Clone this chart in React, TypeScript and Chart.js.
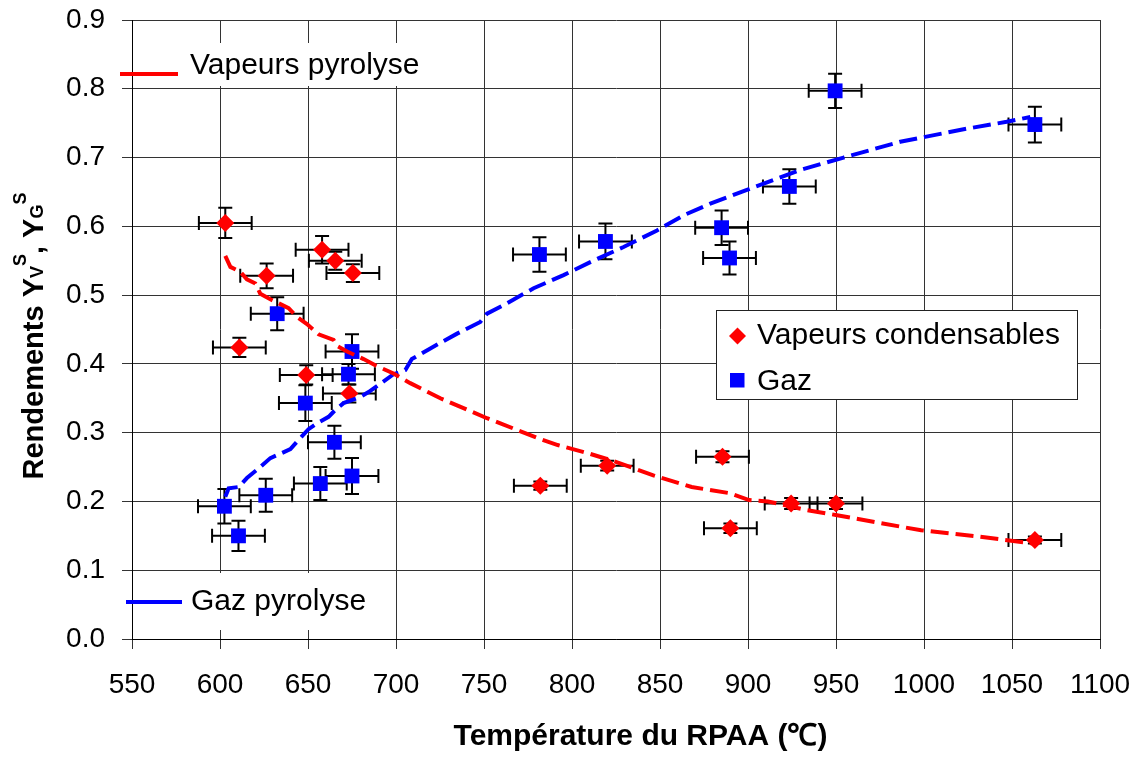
import React, { useEffect, useRef } from "react";
import { Chart, registerables } from "chart.js";

Chart.register(...registerables);

// ---- Points expérimentaux : Vapeurs condensables ----
const vapTemp = [603, 611, 626.5, 649, 658, 665.5, 673.5, 675.5, 782, 820, 885.5, 890, 924.5, 950, 1063];
const vapYield = [0.605, 0.424, 0.528, 0.384, 0.566, 0.55, 0.357, 0.532, 0.223, 0.252, 0.265, 0.161, 0.197, 0.197, 0.144];
const vapErrT = [15, 15, 15, 15, 15, 15, 15, 15, 15, 15, 15, 15, 15, 15, 15];
const vapErrY = [0.022, 0.014, 0.018, 0.014, 0.02, 0.013, 0.013, 0.013, 0.006, 0.007, 0.008, 0.007, 0.008, 0.008, 0.005];

// ---- Points expérimentaux : Gaz ----
const gazTemp = [602.5, 610.5, 626, 632.5, 648.5, 657, 665, 673, 675, 675, 781.5, 819, 885, 889.5, 923.5, 949.5, 1063];
const gazYield = [0.193, 0.15, 0.209, 0.473, 0.343, 0.226, 0.286, 0.385, 0.418, 0.237, 0.559, 0.578, 0.598, 0.554, 0.658, 0.797, 0.748];
const gazErrT = [15, 15, 15, 15, 15, 15, 15, 15, 15, 15, 15, 15, 15, 15, 15, 15, 15];
const gazErrY = [0.025, 0.022, 0.024, 0.024, 0.026, 0.024, 0.024, 0.015, 0.025, 0.026, 0.025, 0.026, 0.025, 0.024, 0.025, 0.025, 0.026];

// ---- Courbe modèle : Vapeurs pyrolyse ----
const vapCurveT = [603, 605.9, 611.5, 615.3, 620.1, 622.9, 628.6, 639, 643.8, 649.4, 656, 664.5, 666.5, 672.2, 681.6, 688.2, 698.6, 708.1, 725.2, 751.7, 759.3, 781, 791.9, 809.3, 824.5, 846.2, 868, 889.7, 900.6, 911.4, 933.1, 950.6, 976.6, 998.4, 1031, 1061.4];
const vapCurveY = [0.557, 0.541, 0.534, 0.523, 0.517, 0.502, 0.494, 0.481, 0.468, 0.458, 0.443, 0.435, 0.426, 0.418, 0.407, 0.398, 0.386, 0.372, 0.35, 0.321, 0.3135, 0.2917, 0.282, 0.27, 0.258, 0.238, 0.221, 0.212, 0.202, 0.2, 0.1875, 0.18, 0.168, 0.158, 0.149, 0.139];

// ---- Courbe modèle : Gaz pyrolyse ----
const gazCurveT = [603, 604.9, 610.6, 615.3, 622.9, 628.6, 640, 643.8, 650.3, 655.1, 661.7, 665.5, 670.2, 679.7, 684.4, 698.6, 705.3, 709, 719.5, 734.7, 747.9, 751.7, 763, 778.2, 795.2, 810.4, 829.3, 848.3, 863.4, 878.6, 899.4, 929.7, 954.3, 986.5, 1024.4, 1047, 1060.4];
const gazCurveY = [0.207, 0.219, 0.221, 0.234, 0.25, 0.263, 0.276, 0.287, 0.305, 0.3135, 0.323, 0.333, 0.343, 0.352, 0.359, 0.385, 0.391, 0.407, 0.4225, 0.444, 0.461, 0.473, 0.488, 0.51, 0.529, 0.548, 0.57, 0.594, 0.616, 0.633, 0.653, 0.682, 0.7, 0.723, 0.742, 0.752, 0.759];

// ---- Axes ----
const xMin = 550;
const xMax = 1100;
const xStep = 50;
const yMin = 0;
const yMax = 0.9;
const yStep = 0.1;

const labelVapCurve = "Vapeurs pyrolyse";
const labelGazCurve = "Gaz pyrolyse";
const labelVapPts = "Vapeurs condensables";
const labelGazPts = "Gaz";
const xTitle = "Température du RPAA (℃)";

const RED = "#ff0000";
const BLUE = "#0000ff";
const FONT = "'Liberation Sans', Arial, sans-serif";

const toPts = (xs: number[], ys: number[]) => xs.map((x, i) => ({ x, y: ys[i] }));

function drawErrorBars(chart: any, xs: number[], ys: number[], ex: number[], ey: number[]) {
  const ctx = chart.ctx;
  const sx = chart.scales.x;
  const sy = chart.scales.y;
  const cap = 7;
  ctx.save();
  ctx.strokeStyle = "#000";
  ctx.lineWidth = 2;
  for (let i = 0; i < xs.length; i++) {
    const px = sx.getPixelForValue(xs[i]);
    const py = sy.getPixelForValue(ys[i]);
    const x1 = sx.getPixelForValue(xs[i] - ex[i]);
    const x2 = sx.getPixelForValue(xs[i] + ex[i]);
    const y1 = sy.getPixelForValue(ys[i] - ey[i]);
    const y2 = sy.getPixelForValue(ys[i] + ey[i]);
    ctx.beginPath();
    ctx.moveTo(x1, py); ctx.lineTo(x2, py);
    ctx.moveTo(x1, py - cap); ctx.lineTo(x1, py + cap);
    ctx.moveTo(x2, py - cap); ctx.lineTo(x2, py + cap);
    ctx.moveTo(px, y1); ctx.lineTo(px, y2);
    ctx.moveTo(px - cap, y1); ctx.lineTo(px + cap, y1);
    ctx.moveTo(px - cap, y2); ctx.lineTo(px + cap, y2);
    ctx.stroke();
  }
  ctx.restore();
}

const overlay = {
  id: "overlay",
  beforeDatasetsDraw(chart: any) {
    const ctx = chart.ctx;
    const { left, top, bottom } = chart.chartArea;
    ctx.save();
    // white backgrounds of the in-plot curve legends
    ctx.fillStyle = "#fff";
    ctx.fillRect(112, 43, 333, 43);
    ctx.fillRect(115, 573, 255, 57);
    // left axis line on top
    ctx.strokeStyle = "#000";
    ctx.lineWidth = 1;
    ctx.beginPath();
    ctx.moveTo(left + 0.5, top);
    ctx.lineTo(left + 0.5, bottom);
    ctx.stroke();
    // curve legends
    ctx.lineWidth = 4;
    ctx.strokeStyle = RED;
    ctx.beginPath(); ctx.moveTo(120, 74); ctx.lineTo(178, 74); ctx.stroke();
    ctx.strokeStyle = BLUE;
    ctx.beginPath(); ctx.moveTo(126, 602); ctx.lineTo(182, 602); ctx.stroke();
    ctx.fillStyle = "#000";
    ctx.font = `30px ${FONT}`;
    ctx.textAlign = "left";
    ctx.textBaseline = "alphabetic";
    ctx.fillText(labelVapCurve, 190, 74);
    ctx.fillText(labelGazCurve, 191, 610);
    ctx.restore();
    drawErrorBars(chart, vapTemp, vapYield, vapErrT, vapErrY);
    drawErrorBars(chart, gazTemp, gazYield, gazErrT, gazErrY);
  },
  afterDraw(chart: any) {
    const ctx = chart.ctx;
    ctx.save();
    // points legend box
    ctx.fillStyle = "#fff";
    ctx.fillRect(716.5, 310.5, 361, 89);
    ctx.strokeStyle = "#222";
    ctx.lineWidth = 1;
    ctx.strokeRect(716.5, 310.5, 361, 89);
    ctx.fillStyle = RED;
    ctx.beginPath();
    ctx.moveTo(737.5, 327.5); ctx.lineTo(746, 336); ctx.lineTo(737.5, 344.5); ctx.lineTo(729, 336);
    ctx.closePath(); ctx.fill();
    ctx.fillStyle = BLUE;
    ctx.fillRect(730, 373, 14.5, 14.5);
    ctx.fillStyle = "#000";
    ctx.font = `30px ${FONT}`;
    ctx.textAlign = "left";
    ctx.textBaseline = "alphabetic";
    ctx.fillText(labelVapPts, 757, 343.5);
    ctx.fillText(labelGazPts, 757, 390);

    // x title
    ctx.font = `bold 30px ${FONT}`;
    ctx.textAlign = "center";
    ctx.fillText(xTitle, 640.5, 745);

    // y title with sub/superscripts
    const main = `bold 29px ${FONT}`;
    const small = `bold 18px ${FONT}`;
    const parts: { t: string; f: string; dy: number }[] = [
      { t: "Rendements Y", f: main, dy: 0 },
      { t: "V", f: small, dy: 0 },
      { t: "S", f: small, dy: -17 },
      { t: ", Y", f: main, dy: 0 },
      { t: "G", f: small, dy: 0 },
      { t: "S", f: small, dy: -17 },
    ];
    let total = 0;
    const widths = parts.map((p) => {
      ctx.font = p.f;
      const w = ctx.measureText(p.t).width;
      total += w;
      return w;
    });
    ctx.translate(43, 336);
    ctx.rotate(-Math.PI / 2);
    ctx.textAlign = "left";
    let cx = -total / 2;
    parts.forEach((p, i) => {
      ctx.font = p.f;
      ctx.fillText(p.t, cx, p.dy);
      cx += widths[i];
    });
    ctx.restore();
  },
};

export default function App() {
  const ref = useRef<HTMLCanvasElement>(null);
  useEffect(() => {
    const canvas = ref.current as HTMLCanvasElement;
    const chart = new Chart(canvas, {
      type: "scatter",
      data: {
        datasets: [
          {
            label: labelVapCurve,
            data: toPts(vapCurveT, vapCurveY),
            showLine: true,
            borderColor: RED,
            backgroundColor: RED,
            borderWidth: 4,
            borderDash: [18, 7],
            pointRadius: 0,
            tension: 0,
            fill: false,
          },
          {
            label: labelGazCurve,
            data: toPts(gazCurveT, gazCurveY),
            showLine: true,
            borderColor: BLUE,
            backgroundColor: BLUE,
            borderWidth: 4,
            borderDash: [18, 7],
            pointRadius: 0,
            tension: 0,
            fill: false,
          },
          {
            label: labelVapPts,
            data: toPts(vapTemp, vapYield),
            pointStyle: "rectRot",
            pointRadius: 9,
            backgroundColor: RED,
            borderColor: RED,
            borderWidth: 0,
          },
          {
            label: labelGazPts,
            data: toPts(gazTemp, gazYield),
            pointStyle: "rect",
            pointRadius: 10.5,
            backgroundColor: BLUE,
            borderColor: BLUE,
            borderWidth: 0,
          },
        ],
      },
      options: {
        responsive: false,
        animation: false,
        devicePixelRatio: 1,
        layout: { padding: { top: 20, right: 40, left: 0, bottom: 0 } },
        plugins: { legend: { display: false }, tooltip: { enabled: false } },
        scales: {
          x: {
            type: "linear",
            min: xMin,
            max: xMax,
            ticks: {
              stepSize: xStep,
              color: "#000",
              font: { family: FONT, size: 28 },
              padding: 19,
              maxRotation: 0,
              callback: (v: any) => String(v),
            },
            grid: { color: "#333", lineWidth: 1, tickLength: 10, tickColor: "#333" },
            border: { color: "#000" },
            afterFit: (s: any) => {
              s.height = 119;
              s.paddingLeft = 0; s.paddingRight = 0; s.paddingTop = 0; s.paddingBottom = 0;
            },
          },
          y: {
            type: "linear",
            min: yMin,
            max: yMax,
            ticks: {
              stepSize: yStep,
              color: "#000",
              font: { family: FONT, size: 28 },
              padding: 17,
              callback: (v: any) => Number(v).toFixed(1),
            },
            grid: { color: "#333", lineWidth: 1, tickLength: 10, tickColor: "#333" },
            border: { color: "#000" },
            afterFit: (s: any) => {
              s.width = 132;
              s.paddingLeft = 0; s.paddingRight = 0; s.paddingTop = 0; s.paddingBottom = 0;
            },
          },
        },
      },
      plugins: [overlay],
    });
    return () => chart.destroy();
  }, []);
  return (
    <div style={{ position: "absolute", left: 0, top: 0, width: 1140, height: 758, background: "#fff" }}>
      <canvas ref={ref} width={1140} height={758} style={{ display: "block", width: 1140, height: 758 }} />
    </div>
  );
}
